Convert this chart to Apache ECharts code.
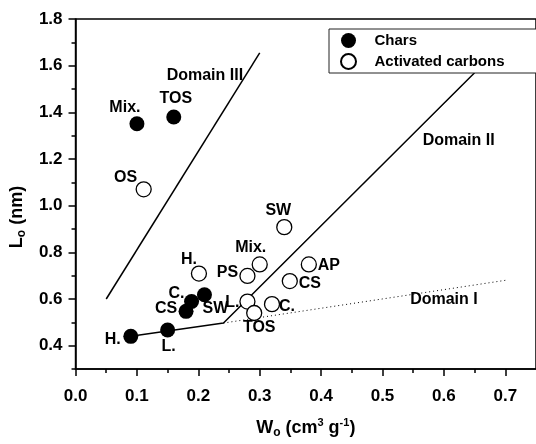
<!DOCTYPE html>
<html>
<head>
<meta charset="utf-8">
<script src="https://cdn.jsdelivr.net/npm/echarts@6/dist/echarts.min.js"></script>
<style>
    html, body { margin: 0; padding: 0; background: #fff; }
    #chartDiv { width: 536px; height: 444px; }
</style>
</head>
<body>
<div id="chartDiv"></div>
<script>
    // chars (filled circles)
    var charsNames = ['H.', 'L.', 'CS', 'C.', 'SW', 'Mix.', 'TOS'];
    var charsW = [0.09, 0.15, 0.18, 0.189, 0.21, 0.10, 0.16];
    var charsL = [0.44, 0.467, 0.547, 0.589, 0.618, 1.351, 1.38];

    // activated carbons (open circles)
    var carbonsNames = ['OS', 'H.', 'PS', 'Mix.', 'L.', 'TOS', 'C.', 'SW', 'AP', 'CS'];
    var carbonsW = [0.111, 0.201, 0.28, 0.30, 0.28, 0.291, 0.32, 0.34, 0.38, 0.349];
    var carbonsL = [1.07, 0.709, 0.699, 0.748, 0.589, 0.54, 0.578, 0.908, 0.748, 0.677];

    // domain boundaries
    var domainIII = [[0.05, 0.60], [0.30, 1.655]];
    var domainLow = [[0.09, 0.44], [0.241, 0.497], [0.65, 1.57]];
    var domainI = [[0.241, 0.497], [0.70, 0.68]];

    var domainNames = ['Domain III', 'Domain II', 'Domain I'];
    var domainW = [0.2107, 0.624, 0.60];
    var domainL = [1.557, 1.28, 0.599];

    var xMajor = [0, 0.1, 0.2, 0.3, 0.4, 0.5, 0.6, 0.7];
    var xMinor = [0.05, 0.15, 0.25, 0.35, 0.45, 0.55, 0.65];
    var yMajor = [0.4, 0.6, 0.8, 1.0, 1.2, 1.4, 1.6, 1.8];
    var yMinor = [0.3, 0.5, 0.7, 0.9, 1.1, 1.3, 1.5, 1.7];

    // label offsets (px from marker centre)
    var charsLabelOff = [[-18, 3], [1, 17], [-20, -3], [-15, -8], [11, 14], [-12, -16], [2, -18]];
    var carbonsLabelOff = [[-18, -12], [-10, -14], [-20, -3], [-9, -17], [-15, 1], [5, 15], [15, 2], [-6, -17], [20, 1], [20, 3]];

    var FONT = 'Arial, "Liberation Sans", sans-serif';

    function points(names, xs, ys, offs) {
        return names.map(function (n, i) {
            return {
                name: n,
                value: [xs[i], ys[i]],
                label: { offset: offs[i] }
            };
        });
    }

    var pointLabel = {
        show: true,
        position: 'inside',
        formatter: '{b}',
        color: '#000',
        opacity: 1,
        textBorderWidth: 0,
        fontFamily: FONT,
        fontWeight: 'bold',
        fontSize: 16
    };

    var titleRich = {
        t: { fontFamily: FONT, fontWeight: 'bold', fontSize: 18, lineHeight: 22, color: '#000' },
        s: { fontFamily: FONT, fontWeight: 'bold', fontSize: 12, lineHeight: 2, verticalAlign: 'bottom', color: '#000' },
        p: { fontFamily: FONT, fontWeight: 'bold', fontSize: 11, lineHeight: 14, verticalAlign: 'top', color: '#000' }
    };

    var lineBase = { type: 'line', showSymbol: false, symbol: 'none', silent: true, z: 2 };
    var tickFont = { fontFamily: FONT, fontWeight: 'bold', fontSize: 17, color: '#000' };

    var chart = echarts.init(document.getElementById('chartDiv'));
    chart.setOption({
        animation: false,
        backgroundColor: '#fff',
        grid: {
            left: 75, top: 19, width: 468.75, height: 353,
            show: true, borderColor: '#000', borderWidth: 1.5
        },
        legend: {
            data: ['Chars', 'Activated carbons'],
            orient: 'vertical',
            left: 329, top: 29,
            itemWidth: 42, itemHeight: 15, itemGap: 5,
            padding: [4, 40, 3, 11],
            borderColor: '#222', borderWidth: 1,
            backgroundColor: '#fff',
            textStyle: { fontFamily: FONT, fontWeight: 'bold', fontSize: 15, color: '#000' }
        },
        xAxis: [{
            type: 'value', min: 0, max: 0.75,
            name: '{t|W}{s|o}{t| (cm}{p|3}{t| g}{p|-1}{t|)}',
            nameLocation: 'middle', nameGap: 48,
            nameTextStyle: { rich: titleRich },
            axisLine: { show: true, lineStyle: { color: '#000', width: 1.5 } },
            axisTick: { show: true, customValues: xMajor, length: 7, lineStyle: { color: '#000', width: 1.5 } },
            axisLabel: Object.assign({
                customValues: xMajor, margin: 19,
                formatter: function (v) { return v.toFixed(1); }
            }, tickFont),
            splitLine: { show: false }
        }, {
            type: 'value', min: 0, max: 0.75, position: 'bottom',
            axisLine: { show: false },
            axisTick: { show: true, customValues: xMinor, length: 4, lineStyle: { color: '#000', width: 1.5 } },
            axisLabel: { show: false },
            splitLine: { show: false }
        }],
        yAxis: [{
            type: 'value', min: 0.3, max: 1.8,
            name: '{t|L}{s|o}{t| (nm)}',
            nameLocation: 'middle', nameGap: 40, nameRotate: 90,
            nameTextStyle: { rich: titleRich, padding: [0, 46, 0, 0] },
            axisLine: { show: true, lineStyle: { color: '#000', width: 1.5 } },
            axisTick: { show: true, customValues: yMajor, length: 7, lineStyle: { color: '#000', width: 1.5 } },
            axisLabel: Object.assign({
                customValues: yMajor, margin: 13,
                formatter: function (v) { return v.toFixed(1); }
            }, tickFont),
            splitLine: { show: false }
        }, {
            type: 'value', min: 0.3, max: 1.8, position: 'left',
            axisLine: { show: false },
            axisTick: { show: true, customValues: yMinor, length: 4, lineStyle: { color: '#000', width: 1.5 } },
            axisLabel: { show: false },
            splitLine: { show: false }
        }],
        series: [
            Object.assign({ name: 'domIII', data: domainIII, lineStyle: { color: '#000', width: 1.5 } }, lineBase),
            Object.assign({ name: 'domLow', data: domainLow, lineStyle: { color: '#000', width: 1.5 } }, lineBase),
            Object.assign({ name: 'domI', data: domainI, lineStyle: { color: '#000', width: 1, type: [1, 3] } }, lineBase),
            {
                name: 'domainText', type: 'scatter', symbol: 'circle', symbolSize: 1, silent: true, z: 4,
                itemStyle: { color: '#fff', opacity: 1 },
                data: domainNames.map(function (n, i) { return { name: n, value: [domainW[i], domainL[i]] }; }),
                label: pointLabel
            },
            {
                name: 'Chars', type: 'scatter', symbol: 'circle', symbolSize: 15, z: 3,
                itemStyle: { color: '#000', opacity: 1 },
                label: pointLabel,
                data: points(charsNames, charsW, charsL, charsLabelOff)
            },
            {
                name: 'Activated carbons', type: 'scatter', symbol: 'circle', symbolSize: 15, z: 3,
                itemStyle: { color: '#fff', borderColor: '#000', borderWidth: 1.3, opacity: 1 },
                label: pointLabel,
                data: points(carbonsNames, carbonsW, carbonsL, carbonsLabelOff)
            }
        ]
    });
</script>
</body>
</html>
